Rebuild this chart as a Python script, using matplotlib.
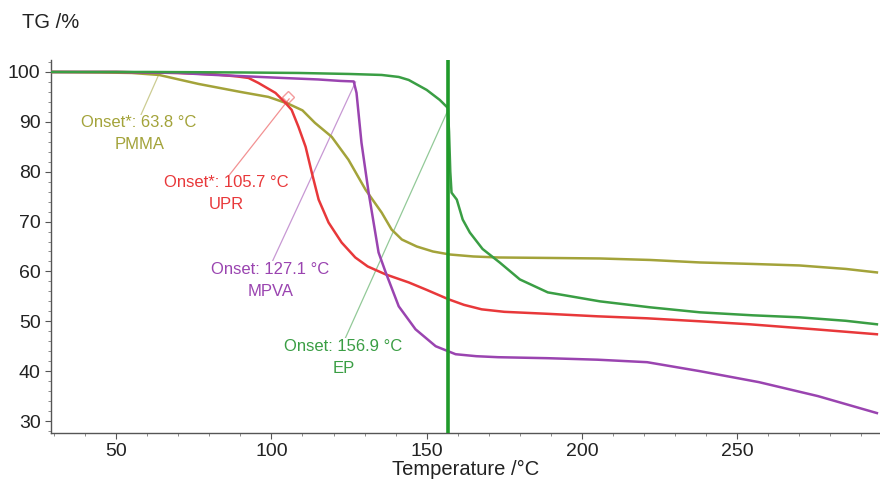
import matplotlib
matplotlib.use("Agg")
import matplotlib.pyplot as plt
from matplotlib.ticker import MultipleLocator

plt.rcParams['font.family'] = ['Liberation Sans', 'DejaVu Sans']

# TG curves: temperature (°C) and residual mass (%)
pmma_t = [29, 45, 55, 63.8, 76.5, 90, 99, 105.5, 110, 114, 119.4, 124.8, 130.3, 135.5, 138.7, 142, 146.8, 152, 157.4, 165, 173, 190, 205.8, 222, 238, 255, 270, 285, 295]
pmma_y = [100, 99.9, 99.8, 99.4, 97.6, 96.0, 95.0, 93.6, 92.3, 89.8, 87.0, 82.4, 76.4, 71.8, 68.4, 66.4, 65.0, 64.0, 63.4, 63.0, 62.8, 62.7, 62.6, 62.3, 61.8, 61.5, 61.2, 60.5, 59.8]

upr_t = [29, 50, 70, 82, 89, 92.6, 95.8, 101.3, 104.5, 106.5, 108.7, 111, 113, 115.2, 118.4, 122.6, 127, 131, 136.8, 144.2, 150, 157.1, 162, 167.7, 175, 189, 205, 221, 238, 254, 275, 295]
upr_y = [100, 100, 99.8, 99.5, 99.1, 98.8, 97.8, 95.8, 93.8, 92.4, 89.0, 85.0, 79.8, 74.4, 69.8, 65.8, 62.8, 61.0, 59.4, 57.8, 56.3, 54.4, 53.3, 52.4, 51.9, 51.5, 51.0, 50.6, 50.0, 49.4, 48.4, 47.4]

mpva_t = [29, 50, 70, 82, 103.5, 115, 122.3, 126.5, 127.4, 129, 131.3, 134.5, 136.8, 141, 146.4, 152.9, 159.3, 166, 173, 189, 205, 221, 238, 257, 276, 295]
mpva_y = [100, 100, 99.8, 99.4, 98.8, 98.5, 98.2, 98.1, 95.8, 85.8, 75.8, 63.8, 59.8, 53.0, 48.4, 45.0, 43.4, 43.0, 42.8, 42.6, 42.3, 41.8, 40.0, 37.8, 35.0, 31.6]

ep_t = [29, 60, 90, 108.7, 125, 135.5, 141, 144.2, 150, 154.2, 156.8, 157.2, 157.6, 158, 159.7, 161.6, 163.9, 168, 173.5, 180, 189, 205.8, 222, 238, 255, 270, 285, 295]
ep_y = [100, 100, 99.9, 99.8, 99.6, 99.4, 99.0, 98.4, 96.4, 94.4, 92.8, 88.0, 80.0, 75.8, 74.4, 70.4, 67.8, 64.5, 61.8, 58.4, 55.8, 54.0, 52.8, 51.8, 51.2, 50.8, 50.1, 49.4]

# Onset evaluation: onset temperature, point on curve, label anchor
onset_names = ["PMMA", "UPR", "MPVA", "EP"]
onset_prefix = ["Onset*", "Onset*", "Onset", "Onset"]
onset_temps = [63.8, 105.7, 127.1, 156.9]
onset_tg = [99.6, 94.6, 98.0, 92.4]
label_x = [57.4, 85.5, 99.7, 123.2]
label_y = [89.8, 77.8, 60.4, 45.0]

colors = {"PMMA": "#a3a33a", "UPR": "#e8383a", "MPVA": "#9a44b0", "EP": "#3a9e44"}

fig = plt.figure(figsize=(8.8, 4.84), dpi=100)
ax = fig.add_axes([51 / 880, 1 - 433 / 484, 829 / 880, 373 / 484])

ax.plot(pmma_t, pmma_y, color=colors["PMMA"], lw=1.8, zorder=3)
ax.plot(upr_t, upr_y, color=colors["UPR"], lw=1.8, zorder=3)
ax.plot(mpva_t, mpva_y, color=colors["MPVA"], lw=1.8, zorder=3)
ax.plot(ep_t, ep_y, color=colors["EP"], lw=1.8, zorder=3)

# Vertical marker at the EP onset temperature
ax.plot([onset_temps[3], onset_temps[3]], [27.8, 102.2], color="#1f9a2a", lw=2.6, zorder=4)

for name, pre, t, tg, lx, ly in zip(onset_names, onset_prefix, onset_temps, onset_tg, label_x, label_y):
    c = colors[name]
    ax.plot([lx, t], [ly + 0.8, tg], color=c, lw=0.9, alpha=0.55, zorder=2)
    ax.text(lx, ly, f"{pre}: {t} °C", color=c, fontsize=12, ha="center", va="center",
            zorder=5, bbox=dict(facecolor="white", edgecolor="none", pad=0.5))
    ax.text(lx, ly - 4.4, name, color=c, fontsize=12, ha="center", va="center", zorder=5)

ax.plot([onset_temps[1] - 0.5], [onset_tg[1] + 0.4], marker="D", ms=6, mfc="none",
        mec=colors["UPR"], alpha=0.5, zorder=3)

ax.set_xlim(29, 296)
ax.set_ylim(27.6, 102.4)
ax.xaxis.set_major_locator(MultipleLocator(50))
ax.xaxis.set_minor_locator(MultipleLocator(10))
ax.yaxis.set_major_locator(MultipleLocator(10))
ax.yaxis.set_minor_locator(MultipleLocator(2))
for s in ["top", "right"]:
    ax.spines[s].set_visible(False)
for s in ["left", "bottom"]:
    ax.spines[s].set_color("#555555")
    ax.spines[s].set_linewidth(1.0)
ax.tick_params(axis="both", which="major", labelsize=14, length=4, color="#555555", labelcolor="#222222")
ax.tick_params(axis="both", which="minor", length=2.5, color="#777777")
ax.set_xlabel("Temperature /°C", fontsize=14.5, color="#222222", labelpad=0)
fig.text(22 / 880, 1 - 22 / 484, "TG /%", fontsize=14.5, color="#222222", ha="left", va="center")

fig.savefig("out.png", dpi=100)
